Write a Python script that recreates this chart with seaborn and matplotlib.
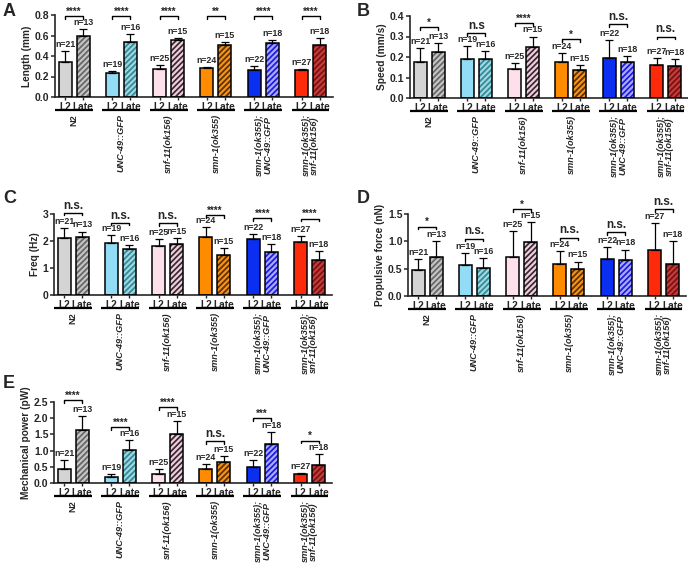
import numpy as np
import pandas as pd
import matplotlib
matplotlib.use("Agg")
import matplotlib.pyplot as plt
from matplotlib import transforms as mtrans
import seaborn as sns

sns.set_style("ticks")
plt.rcParams["font.family"] = ["Liberation Sans", "DejaVu Sans"]
plt.rcParams["font.weight"] = "bold"
plt.rcParams["hatch.linewidth"] = 1.25

# ---------------- data ----------------
groups = ["N2", "UNC-49::GFP", "snf-11(ok156)", "smn-1(ok355)",
          "smn-1(ok355);\nUNC-49::GFP", "smn-1(ok355);\nsnf-11(ok156)"]
stages = ["L2", "Late"]
n_L2 = [21, 19, 25, 24, 22, 27]
n_Late = [13, 16, 15, 15, 18, 18]

colors_L2 = ["#d4d4d4", "#93dcf5", "#fde0ec", "#ff8c00", "#0a2ff0", "#ff2a0a"]
colors_Late = ["#c4c4c4", "#a0d6e2", "#ecd0dc", "#f79218", "#aaaaff", "#c43c3c"]
stripes_Late = ["#666666", "#2f8a95", "#3a2530", "#5a3000", "#1a1ae0", "#7a1010"]

# Panel A: Length (mm)
A_L2 = [0.345, 0.23, 0.27, 0.28, 0.265, 0.265]
A_L2_sd = [0.10, 0.02, 0.045, 0.012, 0.04, 0.012]
A_Late = [0.60, 0.54, 0.56, 0.51, 0.53, 0.51]
A_Late_sd = [0.06, 0.07, 0.015, 0.027, 0.025, 0.065]
A_sig = ["****", "****", "****", "**", "****", "****"]
A_br = [0.79, 0.79, 0.79, 0.79, 0.79, 0.79]

# Panel B: Speed (mm/s)
B_L2 = [0.175, 0.19, 0.14, 0.178, 0.197, 0.162]
B_L2_sd = [0.07, 0.065, 0.032, 0.04, 0.085, 0.035]
B_Late = [0.224, 0.19, 0.25, 0.135, 0.178, 0.154]
B_Late_sd = [0.044, 0.038, 0.05, 0.026, 0.028, 0.038]
B_sig = ["*", "n.s", "****", "*", "n.s.", "n.s."]
B_br = [0.346, 0.317, 0.366, 0.286, 0.36, 0.30]

# Panel C: Freq (Hz)
C_L2 = [2.12, 1.93, 1.81, 2.16, 2.09, 1.98]
C_L2_sd = [0.36, 0.29, 0.26, 0.36, 0.18, 0.19]
C_Late = [2.16, 1.69, 1.90, 1.48, 1.60, 1.28]
C_Late_sd = [0.19, 0.16, 0.22, 0.27, 0.30, 0.35]
C_sig = ["n.s.", "n.s.", "n.s.", "****", "****", "****"]
C_br = [3.05, 2.68, 2.65, 2.95, 2.86, 2.83]

# Panel D: Propulsive force (nN)
D_L2 = [0.478, 0.57, 0.705, 0.58, 0.68, 0.84]
D_L2_sd = [0.20, 0.22, 0.485, 0.24, 0.22, 0.50]
D_Late = [0.72, 0.515, 0.98, 0.49, 0.66, 0.58]
D_Late_sd = [0.28, 0.175, 0.38, 0.14, 0.19, 0.43]
D_sig = ["*", "n.s.", "*", "n.s.", "n.s.", "n.s."]
D_br = [1.27, 1.05, 1.59, 1.07, 1.17, 1.59]

# Panel E: Mechanical power (pW)
E_L2 = [0.44, 0.18, 0.28, 0.44, 0.48, 0.27]
E_L2_sd = [0.26, 0.10, 0.16, 0.14, 0.22, 0.05]
E_Late = [1.63, 1.03, 1.52, 0.64, 1.19, 0.56]
E_Late_sd = [0.44, 0.30, 0.40, 0.18, 0.38, 0.32]
E_sig = ["****", "****", "****", "n.s.", "***", "*"]
E_br = [2.55, 1.73, 2.35, 1.29, 2.0, 1.31]

panels = [
    dict(letter="A", L2=A_L2, L2sd=A_L2_sd, Late=A_Late, Latesd=A_Late_sd, sig=A_sig, br=A_br,
         ylabel="Length (mm)", ylim=0.8, ticks=[0, 0.2, 0.4, 0.6, 0.8], fmt="{:.1f}",
         rect=(55, 97, 82), lpos=(3, 3)),
    dict(letter="B", L2=B_L2, L2sd=B_L2_sd, Late=B_Late, Latesd=B_Late_sd, sig=B_sig, br=B_br,
         ylabel="Speed (mm/s)", ylim=0.4, ticks=[0, 0.1, 0.2, 0.3, 0.4], fmt="{:.1f}",
         rect=(410, 98, 82), lpos=(357, 3)),
    dict(letter="C", L2=C_L2, L2sd=C_L2_sd, Late=C_Late, Latesd=C_Late_sd, sig=C_sig, br=C_br,
         ylabel="Freq (Hz)", ylim=3, ticks=[0, 1, 2, 3], fmt="{:.0f}",
         rect=(54, 295, 81), lpos=(3, 190)),
    dict(letter="D", L2=D_L2, L2sd=D_L2_sd, Late=D_Late, Latesd=D_Late_sd, sig=D_sig, br=D_br,
         ylabel="Propulsive force (nN)", ylim=1.5, ticks=[0, 0.5, 1.0, 1.5], fmt="{:.1f}",
         rect=(408, 296, 82), lpos=(357, 190)),
    dict(letter="E", L2=E_L2, L2sd=E_L2_sd, Late=E_Late, Latesd=E_Late_sd, sig=E_sig, br=E_br,
         ylabel="Mechanical power (pW)", ylim=2.5, ticks=[0, 0.5, 1.0, 1.5, 2.0, 2.5], fmt="{:.1f}",
         rect=(54, 483, 81), lpos=(3, 375)),
]

W, H = 688, 565
GSP = 2.63   # spacing between groups (in units of L2->Late distance)
BW = 0.72
fig = plt.figure(figsize=(W / 100, H / 100), dpi=100)

for p in panels:
    left, bottom, h = p["rect"]
    ax = fig.add_axes([left / W, (H - bottom) / H, 278 / W, h / H])
    rows = []
    for i, g in enumerate(groups):
        rows.append(dict(pos=GSP * i, val=p["L2"][i], sd=p["L2sd"][i], key=f"{i}L2",
                         n=n_L2[i], stage="L2"))
        rows.append(dict(pos=GSP * i + 1, val=p["Late"][i], sd=p["Latesd"][i], key=f"{i}Late",
                         n=n_Late[i], stage="Late"))
    df = pd.DataFrame(rows)
    pal = {}
    for i in range(len(groups)):
        pal[f"{i}L2"] = colors_L2[i]
        pal[f"{i}Late"] = colors_Late[i]
    hue_order = list(df["key"])

    # fill layer
    n0 = len(ax.patches)
    sns.barplot(data=df, x="pos", y="val", hue="key", hue_order=hue_order, palette=pal,
                native_scale=True, dodge=False, width=BW, errorbar=None, legend=False,
                saturation=1, ax=ax, linewidth=0, zorder=2)
    for patch in ax.patches[n0:]:
        cx = patch.get_x() + patch.get_width() / 2
        idx = int(np.argmin(np.abs(df["pos"].values - cx)))
        row = df.iloc[idx]
        gi = int(row["key"][0])
        if row["stage"] == "Late":
            patch.set_edgecolor(stripes_Late[gi])
            patch.set_hatch("//////")
            patch.set_linewidth(0)
    # outline layer
    n1 = len(ax.patches)
    sns.barplot(data=df, x="pos", y="val", hue="key", hue_order=hue_order, palette=pal,
                native_scale=True, dodge=False, width=BW, errorbar=None, legend=False,
                saturation=1, ax=ax, zorder=3)
    for patch in ax.patches[n1:]:
        patch.set_facecolor("none")
        patch.set_edgecolor("black")
        patch.set_linewidth(1.1)
        patch.set_hatch(None)

    # error bars (mean + SD, upper only)
    ax.errorbar(df["pos"], df["val"], yerr=[np.zeros(len(df)), df["sd"]], fmt="none",
                ecolor="black", elinewidth=0.9, capsize=2.6, capthick=0.9, zorder=4,
                clip_on=False)

    ymax = p["ylim"]
    # n labels
    for _, r in df.iterrows():
        ax.annotate(f"n={r['n']}", (r["pos"], r["val"] + r["sd"]), xytext=(0, 1.5),
                    textcoords="offset points", ha="center", va="bottom", fontsize=6.3,
                    fontweight="bold", annotation_clip=False)
    # significance brackets
    tick = ymax * 0.035
    for i in range(len(groups)):
        x0, x1 = GSP * i, GSP * i + 1
        y = p["br"][i]
        ax.plot([x0, x0, x1, x1], [y - tick, y, y, y - tick], color="black", lw=1.0,
                clip_on=False, zorder=5)
        s = p["sig"][i]
        fs = 8.5 if s.startswith("n") else 7
        off = 0.8 if s.startswith("n") else -0.5
        ax.annotate(s, ((x0 + x1) / 2, y), xytext=(0, off), textcoords="offset points",
                    ha="center", va="bottom", fontsize=fs, fontweight="bold",
                    annotation_clip=False)

    # group underline and labels below axis
    trans_line = mtrans.offset_copy(ax.get_xaxis_transform(), fig=fig, y=-9.5, units="points")
    trans_text = mtrans.offset_copy(ax.get_xaxis_transform(), fig=fig, y=-12.5, units="points")
    for i, g in enumerate(groups):
        x0, x1 = GSP * i - 0.55, GSP * i + 1.55
        ax.plot([x0, x1], [0, 0], color="black", lw=1.6, transform=trans_line, clip_on=False,
                solid_capstyle="butt")
        ax.text(GSP * i + 0.5, 0, g, transform=trans_text, rotation=90, ha="center", va="top",
                fontsize=6.6, fontweight="bold", style="normal" if g == "N2" else "italic",
                linespacing=0.95, multialignment="center")

    # axes styling
    ax.set_xlim(-0.56, 14.9)
    ax.set_ylim(0, ymax)
    ax.set_xticks(df["pos"], [s for s in df["stage"]])
    ax.set_yticks(p["ticks"], [p["fmt"].format(t) for t in p["ticks"]])
    ax.tick_params(axis="x", length=2.5, width=1.0, pad=0.8, labelsize=7.3)
    ax.tick_params(axis="y", length=3, width=1.1, pad=1, labelsize=7.5)
    for lab in ax.get_xticklabels() + ax.get_yticklabels():
        lab.set_fontweight("bold")
    ax.set_xlabel("")
    ax.set_ylabel(p["ylabel"], fontsize=7.3, fontweight="bold", labelpad=2)
    for side in ["top", "right"]:
        ax.spines[side].set_visible(False)
    for side in ["left", "bottom"]:
        ax.spines[side].set_linewidth(1.2)
    ax.set_facecolor("none")

    fig.text(p["lpos"][0] / W, 1 - p["lpos"][1] / H, p["letter"], fontsize=13,
             fontweight="bold", ha="left", va="top")

fig.savefig("out.png", dpi=100)
